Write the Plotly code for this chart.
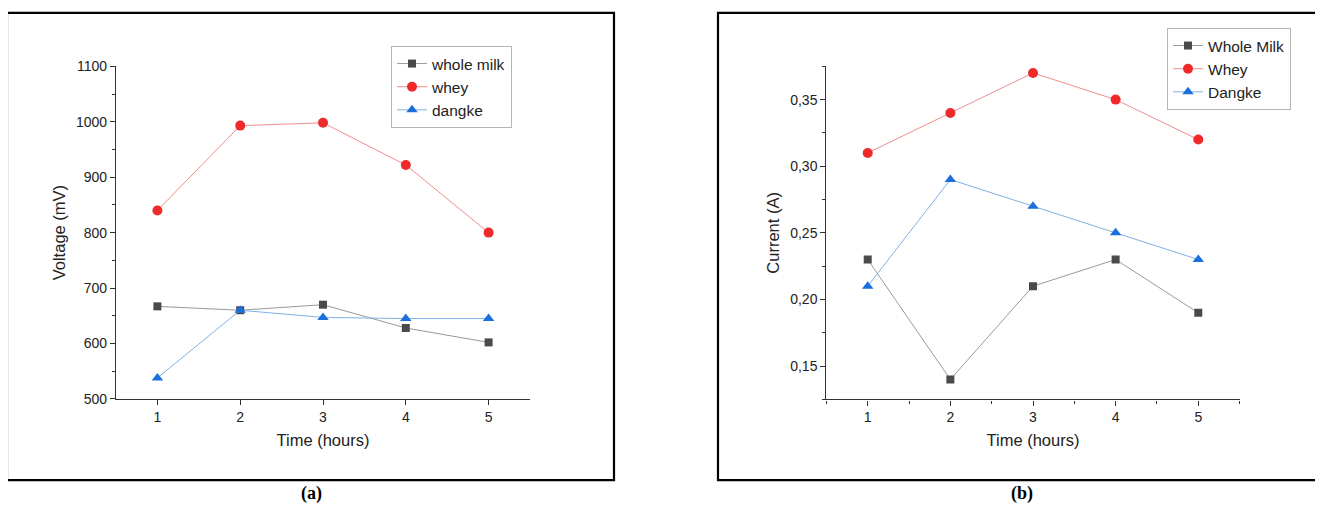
import plotly.graph_objects as go

# ---------------- data ----------------
hours = [1, 2, 3, 4, 5]

names_a = ["whole milk", "whey", "dangke"]
voltage_whole_milk = [667, 660, 670, 628, 602]
voltage_whey = [840, 993, 998, 922, 800]
voltage_dangke = [538, 660, 647, 645, 645]

names_b = ["Whole Milk", "Whey", "Dangke"]
current_whole_milk = [0.23, 0.14, 0.21, 0.23, 0.19]
current_whey = [0.31, 0.34, 0.37, 0.35, 0.32]
current_dangke = [0.21, 0.29, 0.27, 0.25, 0.23]

voltage_ticks = [500, 600, 700, 800, 900, 1000, 1100]
current_ticks = [0.15, 0.20, 0.25, 0.30, 0.35]
current_tick_labels = ["0,15", "0,20", "0,25", "0,30", "0,35"]

# ---------------- styles ----------------
PAGE_MARGIN = 8
W, H = 1323 - 2 * PAGE_MARGIN, 508
FONT = "Arial, Liberation Sans, sans-serif"
marker_colors = ["#4a4a4a", "#ee2a2a", "#1a6fdc"]
line_colors = ["#9a9a9a", "#f38b8b", "#7fb0e6"]
symbols = ["square", "circle", "triangle-up"]
msizes = [8, 10, 10]

# empirical screen mapping (observed = VS * page + VO)
VS, VO = 0.968, 8.3


def px_x(p):
    return (p - PAGE_MARGIN) / W


def px_y(p):
    page = (p - VO) / VS
    return 1 - (page - PAGE_MARGIN) / H


fig = go.Figure()

series_a = [voltage_whole_milk, voltage_whey, voltage_dangke]
series_b = [current_whole_milk, current_whey, current_dangke]

for i, (nm, ys) in enumerate(zip(names_a, series_a)):
    fig.add_trace(go.Scatter(
        x=hours, y=ys, name=nm, mode="lines+markers",
        xaxis="x", yaxis="y", legend="legend",
        line=dict(color=line_colors[i], width=1),
        marker=dict(color=marker_colors[i], symbol=symbols[i], size=msizes[i]),
    ))

for i, (nm, ys) in enumerate(zip(names_b, series_b)):
    fig.add_trace(go.Scatter(
        x=hours, y=ys, name=nm, mode="lines+markers",
        xaxis="x2", yaxis="y2", legend="legend2",
        line=dict(color=line_colors[i], width=1),
        marker=dict(color=marker_colors[i], symbol=symbols[i], size=msizes[i]),
    ))

axis_common = dict(
    showline=True, linecolor="#333333", linewidth=1.3,
    ticks="outside", ticklen=5, tickwidth=1.2, tickcolor="#333333",
    showgrid=False, zeroline=False,
    tickfont=dict(family=FONT, size=14, color="#222222"),
)

legend_common = dict(
    xanchor="left", yanchor="top",
    bgcolor="white", bordercolor="#b5b5b5", borderwidth=1,
    font=dict(family=FONT, size=15.5, color="#222222"),
    tracegroupgap=0, itemwidth=30,
)

fig.update_layout(
    width=W, height=H,
    margin=dict(l=0, r=0, t=0, b=0),
    paper_bgcolor="white", plot_bgcolor="white",
    font=dict(family=FONT, color="#222222"),
    showlegend=True,
    xaxis=dict(
        axis_common, domain=[px_x(116), px_x(530)], range=[0.5, 5.5],
        anchor="y", tickvals=hours,
        title=dict(text="Time (hours)", font=dict(family=FONT, size=16.5), standoff=10),
    ),
    yaxis=dict(
        axis_common, domain=[px_y(398.8), px_y(66.3)], range=[500, 1100],
        anchor="x", tickvals=voltage_ticks,
        minor=dict(ticks="outside", ticklen=3, dtick=50, tickcolor="#333333"),
        title=dict(text="Voltage (mV)", font=dict(family=FONT, size=16.5), standoff=6),
    ),
    xaxis2=dict(
        axis_common, domain=[px_x(826.4), px_x(1239.6)], range=[0.5, 5.5],
        anchor="y2", tickvals=hours,
        minor=dict(ticks="outside", ticklen=3, dtick=0.5, tick0=0.5, tickcolor="#333333"),
        title=dict(text="Time (hours)", font=dict(family=FONT, size=16.5), standoff=10),
    ),
    yaxis2=dict(
        axis_common, domain=[px_y(399.3), px_y(66.3)], range=[0.125, 0.375],
        anchor="x2", tickvals=current_ticks, ticktext=current_tick_labels,
        minor=dict(ticks="outside", ticklen=3, dtick=0.025, tick0=0.125, tickcolor="#333333"),
        title=dict(text="Current (A)", font=dict(family=FONT, size=16.5), standoff=6),
    ),
    legend=dict(legend_common, x=px_x(391), y=px_y(46)),
    legend2=dict(legend_common, x=px_x(1167), y=px_y(28)),
    shapes=[
        dict(type="rect", xref="paper", yref="paper",
             x0=px_x(7), x1=px_x(614), y0=px_y(480), y1=px_y(13),
             line=dict(color="black", width=2.2), fillcolor="rgba(0,0,0,0)", layer="below"),
        dict(type="rect", xref="paper", yref="paper",
             x0=px_x(718), x1=px_x(1335), y0=px_y(480), y1=px_y(13),
             line=dict(color="black", width=2.2), fillcolor="rgba(0,0,0,0)", layer="below"),
    ],
    annotations=[
        dict(text="<b>(a)</b>", xref="paper", yref="paper", x=px_x(311), y=px_y(493),
             showarrow=False, xanchor="center", yanchor="middle",
             font=dict(family="Times New Roman, Liberation Serif, serif", size=18, color="black")),
        dict(text="<b>(b)</b>", xref="paper", yref="paper", x=px_x(1022), y=px_y(493),
             showarrow=False, xanchor="center", yanchor="middle",
             font=dict(family="Times New Roman, Liberation Serif, serif", size=18, color="black")),
    ],
)

fig.write_html("out.html")
